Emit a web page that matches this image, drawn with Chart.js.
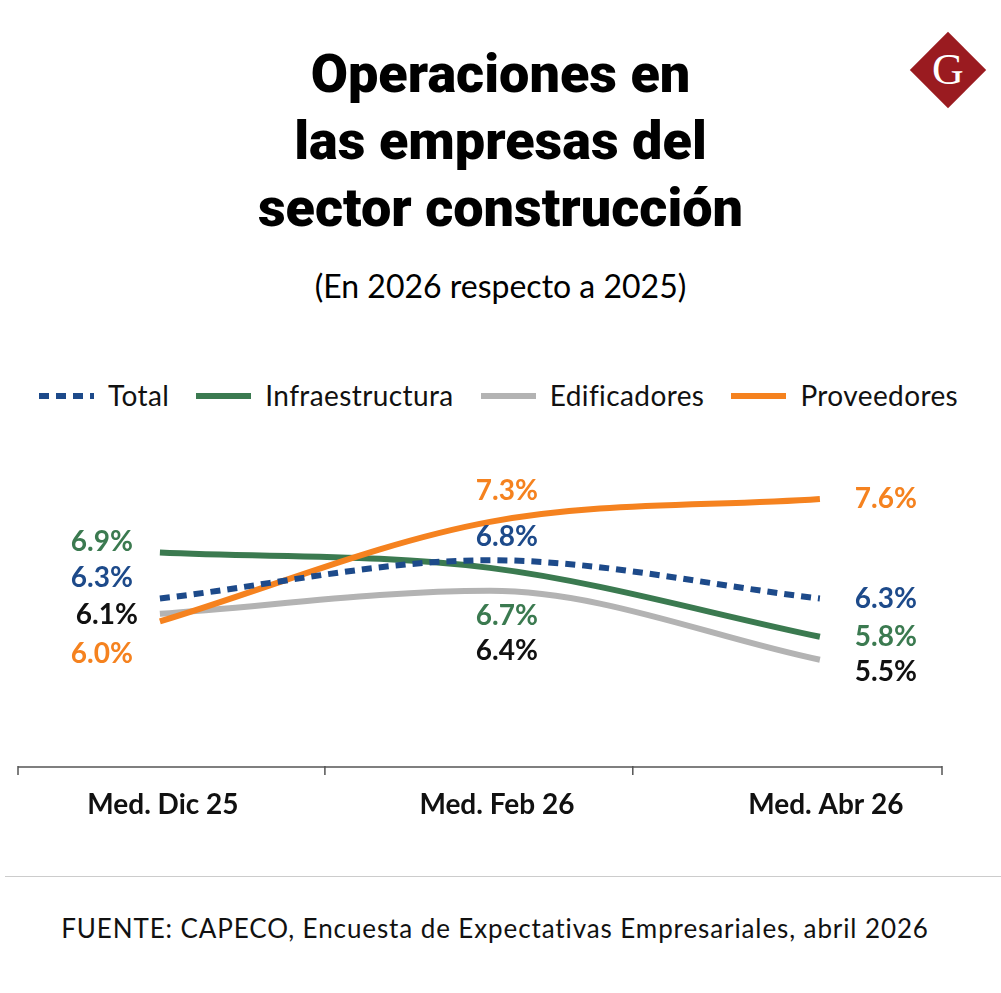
<!DOCTYPE html>
<html>
<head>
<meta charset="utf-8">
<script src="https://cdn.jsdelivr.net/npm/chart.js@4"></script>
<style>
body { margin: 0; width: 1001px; height: 993px; background: #fff; position: relative; overflow: hidden; font-family: Lato, "Open Sans", sans-serif; }
.title { position: absolute; top: 40px; left: 0; width: 1001px; text-align: center; font-family: Roboto, Lato, sans-serif; font-size: 54px; font-weight: 900; line-height: 67px; color: #000; }
.sub { position: absolute; top: 266px; left: 0; width: 1001px; text-align: center; font-size: 32px; color: #000; }
.legend { position: absolute; top: 374px; left: 36px; font-size: 28px; color: #111; white-space: nowrap; letter-spacing: 0.4px; }
.legend span { display: inline-block; vertical-align: middle; }
.logo { position: absolute; left: 921px; top: 43px; width: 54px; height: 54px; background: #9a1b20; transform: rotate(45deg); }
.logoG { position: absolute; left: 921px; top: 43px; width: 54px; height: 54px; text-align: center; line-height: 54px; color: #fff; font-family: "Liberation Serif", serif; font-size: 44px; }
.rule { position: absolute; left: 5px; top: 876px; width: 996px; height: 1px; background: #ccc; }
.src { position: absolute; top: 912px; left: 0; width: 990px; text-align: center; font-size: 26px; letter-spacing: 0.9px; color: #111; }
#wrap { position: absolute; left: 0; top: 420px; width: 1001px; height: 440px; }
</style>
</head>
<body>
<div class="title">Operaciones en<br>las empresas del<br>sector construcción</div>
<div class="sub">(En 2026 respecto a 2025)</div>
<div class="logo"></div><div class="logoG">G</div>
<div class="legend" id="legend"></div>
<div id="wrap"><canvas id="chart"></canvas></div>
<div class="rule"></div>
<div class="src">FUENTE: CAPECO, Encuesta de Expectativas Empresariales, abril 2026</div>
<script>
const categories = ['Med. Dic 25', 'Med. Feb 26', 'Med. Abr 26'];
const seriesNames = ['Total', 'Infraestructura', 'Edificadores', 'Proveedores'];
const total = [6.3, 6.8, 6.3];
const infraestructura = [6.9, 6.7, 5.8];
const edificadores = [6.1, 6.4, 5.5];
const proveedores = [6.0, 7.3, 7.6];

const lineColors = ['#1d4a8a', '#3b7a50', '#b3b3b3', '#f5821f'];
const labelColors = ['#1d4a8a', '#3b7a50', '#111111', '#f5821f'];
const dashes = [[10, 7], [], [], []];
// label offsets (px) per series, per category
const offsets = [
    [[-58, -21], [17, -23], [66, 0]],
    [[-58, -11], [17, 48], [66, 0]],
    [[-53, 1], [17, 60], [66, 12]],
    [[-58, 32], [17, -31], [66, 0]]
];
const allSeries = [total, infraestructura, edificadores, proveedores];

// legend
let legendHtml = '';
for (let i = 0; i < seriesNames.length; i++) {
    let dash = dashes[i].length ? 'stroke-dasharray="10 7"' : '';
    legendHtml += '<span><svg width="60" height="20"><line x1="3" y1="10" x2="58" y2="10" stroke="' + lineColors[i] +
        '" stroke-width="6" ' + dash + '/></svg></span><span style="margin:0 24px 0 12px">' + seriesNames[i] + '</span>';
}
document.getElementById('legend').innerHTML = legendHtml;

const datasets = allSeries.map((s, i) => ({
    label: seriesNames[i],
    data: s.map((v, j) => ({x: j, y: v})),
    borderColor: lineColors[i],
    borderDash: dashes[i],
    borderWidth: 6,
    pointRadius: 0,
    cubicInterpolationMode: 'monotone',
    order: i === 0 ? 0 : 4 - i
}));

const labelsPlugin = {
    id: 'labels',
    afterDraw(chart) {
        const ctx = chart.ctx;
        const xs = chart.scales.x, ys = chart.scales.y;
        ctx.save();
        ctx.font = 'bold 28px Lato, "Open Sans", sans-serif';
        ctx.textAlign = 'center';
        ctx.textBaseline = 'middle';
        allSeries.forEach((s, i) => {
            ctx.fillStyle = labelColors[i];
            s.forEach((v, j) => {
                ctx.fillText(v.toFixed(1) + '%', xs.getPixelForValue(j) + offsets[i][j][0], ys.getPixelForValue(v) + offsets[i][j][1]);
            });
        });
        // axis
        const b = chart.chartArea.bottom;
        ctx.strokeStyle = '#555';
        ctx.lineWidth = 1.5;
        ctx.beginPath();
        ctx.moveTo(chart.chartArea.left, b);
        ctx.lineTo(chart.chartArea.right, b);
        [chart.chartArea.left, xs.getPixelForValue(0.5), xs.getPixelForValue(1.433), chart.chartArea.right].forEach(x => {
            ctx.moveTo(x, b - 1);
            ctx.lineTo(x, b + 8);
        });
        ctx.stroke();
        ctx.fillStyle = '#111';
        ctx.font = 'bold 28px Lato, "Open Sans", sans-serif';
        categories.forEach((c, j) => {
            ctx.fillText(c, xs.getPixelForValue(j) + [3, 7, 6][j], b + 38);
        });
        ctx.restore();
    }
};

new Chart(document.getElementById('chart'), {
    type: 'line',
    data: {datasets: datasets},
    plugins: [labelsPlugin],
    options: {
        responsive: true,
        maintainAspectRatio: false,
        animation: false,
        layout: {padding: {left: 18, right: 59, top: 10, bottom: 93}},
        plugins: {legend: {display: false}, tooltip: {enabled: false}},
        scales: {
            x: {type: 'linear', min: -0.43, max: 2.37, display: false},
            y: {min: 4.1, max: 8.5, display: false}
        }
    }
});
</script>
</body>
</html>
